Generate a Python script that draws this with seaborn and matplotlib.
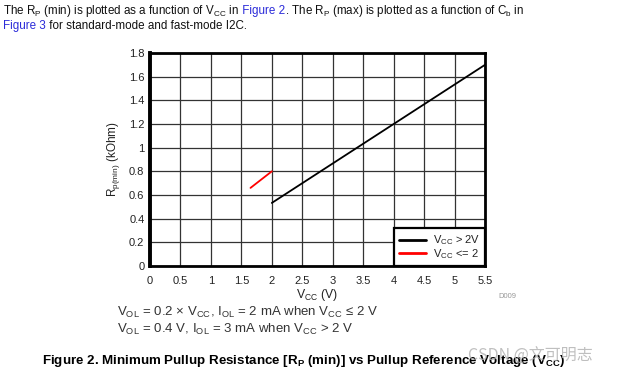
import matplotlib
matplotlib.use("Agg")
import matplotlib.pyplot as plt
import seaborn as sns
import pandas as pd

# ---- data ----
vcc_high = [2.0, 5.5]          # Vcc > 2V
rp_high = [0.533, 1.7]
vcc_low = [1.65, 2.0]          # Vcc <= 2
rp_low = [0.66, 0.8]
x_ticks = [0, 0.5, 1, 1.5, 2, 2.5, 3, 3.5, 4, 4.5, 5, 5.5]
x_tick_labels = ["0", "0.5", "1", "1.5", "2", "2.5", "3", "3.5", "4", "4.5", "5", "5.5"]
y_ticks = [0, 0.2, 0.4, 0.6, 0.8, 1.0, 1.2, 1.4, 1.6, 1.8]
y_tick_labels = ["0", "0.2", "0.4", "0.6", "0.8", "1", "1.2", "1.4", "1.6", "1.8"]
series_names = ["V$_\\mathregular{CC}$ > 2V", "V$_\\mathregular{CC}$ <= 2"]

sns.set_theme(style="white")
plt.rcParams['font.family'] = ['Liberation Sans', 'DejaVu Sans']
plt.rcParams['mathtext.default'] = 'regular'

df = pd.concat([
    pd.DataFrame({"Vcc": vcc_high, "Rp": rp_high, "series": series_names[0]}),
    pd.DataFrame({"Vcc": vcc_low, "Rp": rp_low, "series": series_names[1]}),
])

W, H = 618, 374
fig = plt.figure(figsize=(W / 100, H / 100), dpi=100)
fig.patch.set_facecolor("white")
ax = fig.add_axes([150 / W, 1 - 266 / H, (485 - 150) / W, (266 - 53) / H])

sns.lineplot(data=df, x="Vcc", y="Rp", hue="series", hue_order=series_names,
             palette={series_names[0]: "black", series_names[1]: "#ff0000"},
             linewidth=1.3, ax=ax, sort=False, estimator=None)

ax.set_xlim(0, 5.5)
ax.set_ylim(0, 1.8)
ax.set_xticks(x_ticks)
ax.set_xticklabels(x_tick_labels)
ax.set_yticks(y_ticks)
ax.set_yticklabels(y_tick_labels)
ax.tick_params(axis="both", length=0, labelsize=8, colors="#222222")
ax.tick_params(axis="x", pad=7)
ax.tick_params(axis="y", pad=4)
ax.grid(True, color="#333333", linewidth=0.9)
ax.set_axisbelow(True)
for s in ax.spines.values():
    s.set_color("black")
    s.set_linewidth(2)
ax.spines["left"].set_linewidth(2.8)

ax.set_xlabel("V$_\\mathregular{CC}$ (V)", fontsize=8.8, color="#222222", labelpad=1)
ax.set_ylabel("R$_\\mathregular{p(min)}$ (kOhm)", fontsize=8.5, color="#222222", labelpad=5)

leg = ax.legend(loc="lower right", fontsize=8, frameon=True, fancybox=False,
                borderaxespad=0, handlelength=2.4, handletextpad=0.6,
                labelspacing=0.0, borderpad=0.45)
leg.get_frame().set_edgecolor("black")
leg.get_frame().set_linewidth(1.6)
leg.get_frame().set_alpha(1)
for line in leg.get_lines():
    line.set_linewidth(2)
for t in leg.get_texts():
    t.set_color("#222222")
leg.set_title(None)

fig.text(498 / W, 1 - 297 / H, "D009", fontsize=5.5, color="#999999", va="center")

renderer = fig.canvas.get_renderer()


def runs(x_px, y_px, parts, **kw):
    x = x_px
    for txt, col in parts:
        t = fig.text(x / W, 1 - y_px / H, txt, color=col, va="baseline", ha="left", **kw)
        bb = t.get_window_extent(renderer)
        x += bb.width


blue = "#2b2bd9"
black = "#111111"
runs(3, 14, [("The R$_\\mathregular{P}$ (min) is plotted as a function of V$_\\mathregular{CC}$ in", black),
             (" Figure 2", blue),
             (". The R$_\\mathregular{P}$ (max) is plotted as a function of C$_\\mathregular{b}$ in", black)],
     fontsize=8.4)
runs(3, 29, [("Figure 3", blue), (" for standard-mode and fast-mode I2C.", black)], fontsize=8.4)

fig.text(117 / W, 1 - 316 / H,
         "V$_\\mathregular{OL}$ = 0.2 × V$_\\mathregular{CC}$, I$_\\mathregular{OL}$ = 2 mA when V$_\\mathregular{CC}$ ≤ 2 V",
         fontsize=9.5, color="#333333", va="baseline")
fig.text(117 / W, 1 - 333 / H,
         "V$_\\mathregular{OL}$ = 0.4 V, I$_\\mathregular{OL}$ = 3 mA when V$_\\mathregular{CC}$ > 2 V",
         fontsize=9.5, color="#333333", va="baseline")

fig.text(42 / W, 1 - 364 / H,
         "Figure 2. Minimum Pullup Resistance [R$_\\mathregular{P}$ (min)] vs Pullup Reference Voltage (V$_\\mathregular{CC}$)",
         fontsize=9.6, fontweight="bold", color="black", va="baseline")

fig.text(468 / W, 1 - 361 / H, "CSDN @文可明志", fontsize=11.5, color="#b0b0b0", alpha=0.8,
         va="baseline", family=["Noto Sans CJK SC", "DejaVu Sans"])

fig.savefig("out.png", dpi=100, facecolor="white")
